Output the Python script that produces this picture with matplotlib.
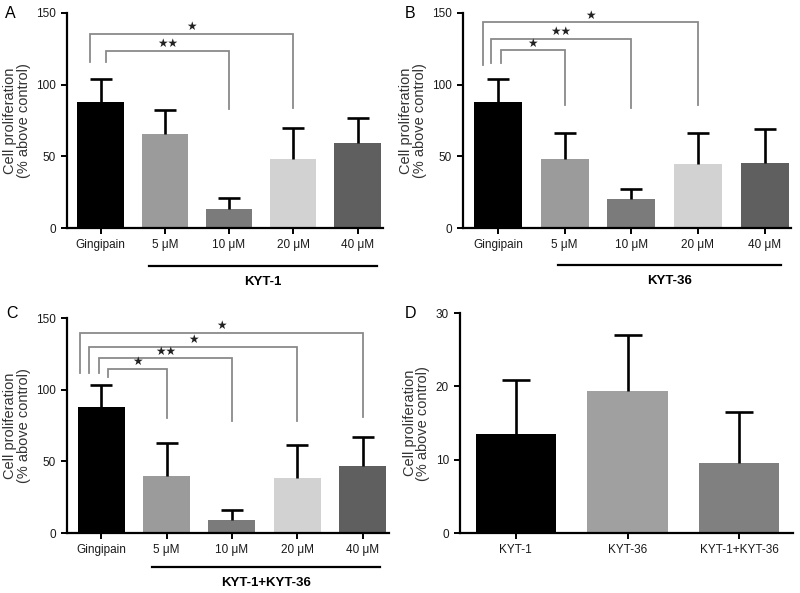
import matplotlib
matplotlib.use("Agg")
import matplotlib.pyplot as plt
import matplotlib.transforms as mtransforms

plt.rcParams["font.family"] = ["Liberation Sans", "DejaVu Sans"]

dose_labels = ["Gingipain", "5 μM", "10 μM", "20 μM", "40 μM"]
dose_colors = ["#000000", "#9b9b9b", "#7b7b7b", "#d2d2d2", "#5f5f5f"]

kyt1_mean = [88, 65.5, 13.5, 48, 59]
kyt1_err = [16, 17, 7.5, 21.5, 18]

kyt36_mean = [88, 48, 20, 45, 45.6]
kyt36_err = [15.7, 18, 7, 21, 23.7]

combo_mean = [88, 39.5, 9.3, 38.4, 46.5]
combo_err = [15.5, 23.3, 7, 22.8, 20.2]

inhib_labels = ["KYT-1", "KYT-36", "KYT-1+KYT-36"]
inhib_colors = ["#000000", "#a0a0a0", "#808080"]
inhib_mean = [13.45, 19.4, 9.5]
inhib_err = [7.45, 7.6, 7.0]

# brackets: (left x offset from Gingipain, target bar, top y, left drop y, right drop y, stars)
kyt1_brackets = [(-0.17, 3, 135.5, 115.5, 84, "★"),
                 (0.08, 2, 123.6, 115.5, 83, "★★")]
kyt36_brackets = [(-0.22, 3, 143.5, 114, 86, "★"),
                  (-0.10, 2, 132, 115, 84, "★★"),
                  (0.05, 1, 124, 115, 86, "★")]
combo_brackets = [(-0.33, 4, 139.5, 112, 81, "★"),
                  (-0.19, 3, 129.8, 112, 78, "★"),
                  (-0.03, 2, 122, 112, 78, "★★"),
                  (0.10, 1, 114.6, 109, 80.5, "★")]

fig = plt.figure(figsize=(8, 5.93), dpi=100)


def style_axes(ax, ymax, yticks):
    for side in ("top", "right"):
        ax.spines[side].set_visible(False)
    for side in ("left", "bottom"):
        ax.spines[side].set_linewidth(1.6)
    ax.set_ylim(0, ymax)
    ax.set_yticks(yticks)
    ax.tick_params(axis="both", width=1.4, length=4, labelsize=8.5, pad=4,
                   labelcolor="#1a1a1a")
    ax.set_ylabel("Cell proliferation\n(% above control)", fontsize=10.5,
                  linespacing=0.95, color="#333333", labelpad=4)


def draw_bars(ax, means, errs, colors, width, cap):
    x = list(range(len(means)))
    tops = [m + e for m, e in zip(means, errs)]
    ax.bar(x, means, width=width, color=colors, edgecolor="none", zorder=2)
    # one-sided (upper) error bars, as in the original
    ax.vlines(x, means, tops, color="black", lw=1.9, zorder=3)
    ax.plot(x, tops, ls="none", marker="_", ms=cap, mew=1.9, color="black", zorder=3)


def draw_brackets(ax, brackets):
    for left, target, top, ldrop, rdrop, stars in brackets:
        ax.plot([left, left, target, target], [ldrop, top, top, rdrop],
                color="#8a8a8a", lw=1.3, zorder=1, solid_joinstyle="miter")
        ax.text((left + target) / 2, top + 0.5, stars, ha="center", va="bottom",
                fontsize=8.5, color="#222222", family="DejaVu Sans")


def dose_panel(rect, means, errs, brackets, group, gx, gy):
    ax = fig.add_axes(rect)
    draw_bars(ax, means, errs, dose_colors, 0.72, 16)
    draw_brackets(ax, brackets)
    style_axes(ax, 150, [0, 50, 100, 150])
    ax.set_xlim(-0.52, 4.4)
    ax.set_xticks(range(len(dose_labels)))
    ax.set_xticklabels(dose_labels)
    trans = mtransforms.blended_transform_factory(ax.transData, ax.transAxes)
    ax.plot(gx, [gy, gy], color="black", lw=1.6, transform=trans, clip_on=False)
    ax.text(sum(gx) / 2, gy - 0.045, group, transform=trans, ha="center",
            va="top", fontsize=9.5, fontweight="bold")
    return ax


dose_panel([0.084, 0.6155, 0.395, 0.3626], kyt1_mean, kyt1_err,
           kyt1_brackets, "KYT-1", [0.75, 4.3], -0.177)
dose_panel([0.579, 0.6155, 0.41, 0.3626], kyt36_mean, kyt36_err,
           kyt36_brackets, "KYT-36", [0.9, 4.25], -0.172)
dose_panel([0.084, 0.101, 0.402, 0.3626], combo_mean, combo_err,
           combo_brackets, "KYT-1+KYT-36", [0.77, 4.27], -0.158)

axd = fig.add_axes([0.575, 0.101, 0.416, 0.371])
draw_bars(axd, inhib_mean, inhib_err, inhib_colors, 0.72, 20)
style_axes(axd, 30, [0, 10, 20, 30])
axd.set_xlim(-0.5, 2.48)
axd.set_xticks(range(len(inhib_labels)))
axd.set_xticklabels(inhib_labels)

for label, x, y in [("A", 0.006, 0.978), ("B", 0.506, 0.978),
                    ("C", 0.008, 0.472), ("D", 0.506, 0.472)]:
    fig.text(x, y, label, fontsize=11.5, ha="left", va="center")

fig.savefig("out.png", dpi=100)
